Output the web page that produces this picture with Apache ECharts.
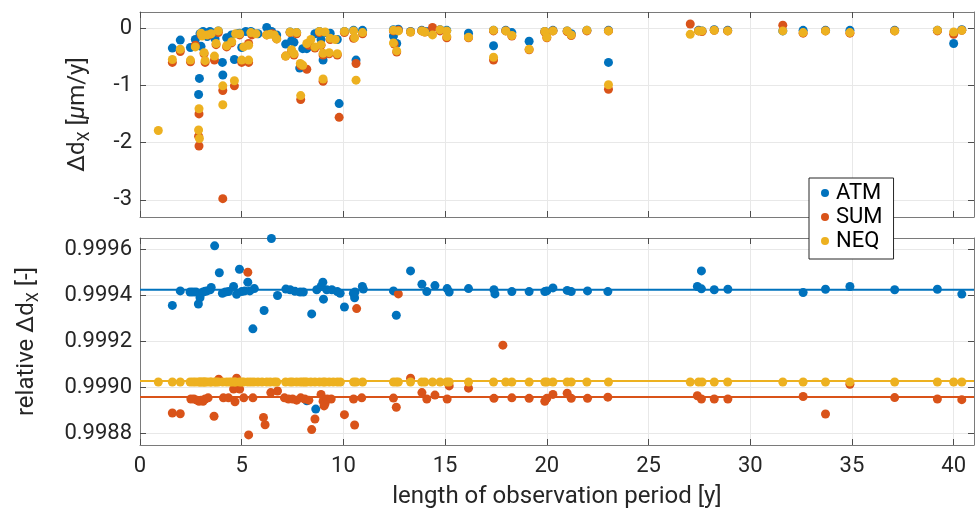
<!DOCTYPE html>
<html>
<head>
<meta charset="utf-8">
<script src="https://cdn.jsdelivr.net/npm/echarts@6/dist/echarts.min.js"></script>
<style>
html,body{margin:0;padding:0;background:#fff;}
#c{width:977px;height:511px;}
</style>
</head>
<body>
<div id="c"></div>
<script>
// ---------- data ----------
const seriesNames = ['ATM', 'SUM', 'NEQ'];
const xTicks = [0, 5, 10, 15, 20, 25, 30, 35, 40];
const topYTicks = [-3, -2, -1, 0];
const botYTicks = [0.9988, 0.9990, 0.9992, 0.9994, 0.9996];

// top panel: absolute differences [period, value]
const topATM = [[1.59,-0.35],[1.98,-0.21],[2.48,-0.34],[2.72,-0.20],[2.92,-0.88],[2.88,-1.16],[2.95,-0.10],[3.0,-0.32],[3.1,-0.06],[3.3,-0.15],[3.44,-0.06],[3.5,-0.10],[3.69,-0.19],[3.85,-0.05],[4.05,-0.60],[4.07,-0.82],[4.26,-0.17],[4.33,-0.18],[4.5,-0.12],[4.64,-0.55],[4.8,-0.10],[4.9,-0.09],[5.0,-0.34],[5.2,-0.06],[5.45,-0.06],[5.55,-0.09],[5.8,-0.10],[6.23,0.01],[6.47,-0.06],[6.72,-0.12],[7.16,-0.28],[7.38,-0.07],[7.45,-0.22],[7.57,-0.25],[7.7,-0.08],[7.85,-0.70],[8.0,-0.36],[8.2,-0.36],[8.6,-0.10],[8.82,-0.06],[8.9,-0.20],[9.0,-0.56],[9.1,-0.08],[9.35,-0.09],[9.7,-0.20],[9.79,-1.32],[10.05,-0.06],[10.5,-0.04],[10.62,-0.56],[10.94,-0.04],[12.46,-0.03],[12.46,-0.14],[12.62,-0.27],[12.7,-0.02],[13.3,-0.06],[13.85,-0.04],[14.0,-0.06],[14.2,-0.06],[14.75,-0.03],[15.08,-0.04],[16.15,-0.09],[17.38,-0.04],[17.38,-0.31],[17.98,-0.04],[18.28,-0.08],[19.13,-0.23],[19.9,-0.06],[20.3,-0.04],[21.0,-0.05],[21.2,-0.10],[21.97,-0.04],[23.03,-0.04],[23.03,-0.60],[27.46,-0.04],[27.63,-0.05],[28.23,-0.03],[28.89,-0.04],[31.6,-0.05],[32.6,-0.04],[33.7,-0.04],[34.9,-0.04],[37.1,-0.04],[39.2,-0.04],[40.0,-0.27],[40.4,-0.03]];
const topSUM = [[1.59,-0.60],[1.98,-0.41],[2.48,-0.59],[2.72,-0.30],[2.90,-1.50],[2.88,-1.89],[2.90,-2.06],[3.0,-0.12],[3.15,-0.45],[3.2,-0.60],[3.4,-0.12],[3.66,-0.56],[3.74,-0.29],[3.85,-0.08],[4.07,-1.09],[4.07,-2.98],[4.26,-0.33],[4.5,-0.26],[4.64,-1.01],[4.9,-0.12],[5.0,-0.60],[5.34,-0.27],[5.34,-0.60],[5.5,-0.12],[6.23,-0.12],[6.5,-0.10],[6.72,-0.19],[7.16,-0.49],[7.38,-0.08],[7.45,-0.40],[7.57,-0.47],[7.7,-0.10],[7.9,-1.25],[7.9,-0.66],[8.2,-0.72],[8.3,-0.30],[8.6,-0.35],[8.82,-0.08],[8.9,-0.30],[9.0,-0.93],[9.0,-0.47],[9.3,-0.45],[9.35,-0.20],[9.7,-0.47],[9.79,-1.56],[10.05,-0.08],[10.5,-0.18],[10.62,-0.62],[10.94,-0.10],[12.46,-0.05],[12.5,-0.28],[12.62,-0.42],[12.7,-0.04],[13.3,-0.07],[13.85,-0.05],[14.0,-0.07],[14.38,0.01],[14.75,-0.05],[15.08,-0.17],[16.15,-0.17],[17.38,-0.05],[17.38,-0.56],[17.98,-0.05],[18.28,-0.14],[19.13,-0.38],[19.9,-0.07],[20.0,-0.17],[20.3,-0.05],[21.0,-0.06],[21.2,-0.13],[21.97,-0.05],[23.03,-0.05],[23.03,-1.07],[27.05,0.07],[27.46,-0.05],[27.63,-0.06],[28.23,-0.04],[28.89,-0.05],[31.6,0.05],[32.6,-0.09],[33.7,-0.05],[34.9,-0.09],[37.1,-0.05],[39.2,-0.05],[40.0,-0.11],[40.4,-0.04]];
const topNEQ = [[0.90,-1.79],[1.59,-0.55],[1.98,-0.37],[2.48,-0.56],[2.72,-0.33],[2.90,-1.41],[2.88,-1.78],[2.92,-1.93],[3.0,-0.09],[3.05,-0.14],[3.15,-0.43],[3.2,-0.57],[3.3,-0.12],[3.5,-0.10],[3.66,-0.49],[3.74,-0.27],[3.85,-0.05],[4.07,-1.01],[4.07,-1.34],[4.26,-0.31],[4.51,-0.24],[4.64,-0.92],[4.7,-0.10],[4.9,-0.10],[5.0,-0.56],[5.1,-0.33],[5.34,-0.56],[5.34,-0.30],[5.45,-0.08],[5.7,-0.10],[6.23,-0.12],[6.4,-0.11],[6.6,-0.12],[6.72,-0.19],[7.16,-0.49],[7.38,-0.07],[7.45,-0.38],[7.57,-0.45],[7.7,-0.08],[7.88,-0.62],[7.9,-1.18],[8.0,-0.65],[8.2,-0.27],[8.4,-0.20],[8.6,-0.33],[8.82,-0.06],[8.9,-0.29],[9.0,-0.44],[9.0,-0.89],[9.1,-0.07],[9.3,-0.43],[9.35,-0.18],[9.6,-0.20],[9.7,-0.45],[10.05,-0.06],[10.5,-0.05],[10.55,-0.17],[10.62,-0.91],[10.94,-0.08],[12.46,-0.04],[12.46,-0.26],[12.62,-0.40],[12.7,-0.05],[13.3,-0.07],[13.85,-0.05],[14.0,-0.07],[14.38,-0.12],[14.75,-0.03],[15.08,-0.05],[15.08,-0.15],[16.15,-0.16],[17.38,-0.04],[17.38,-0.51],[17.98,-0.05],[18.28,-0.13],[19.13,-0.37],[19.9,-0.06],[20.0,-0.16],[20.3,-0.05],[21.0,-0.05],[21.2,-0.12],[21.97,-0.04],[23.03,-0.05],[23.03,-0.99],[27.05,-0.11],[27.46,-0.05],[27.63,-0.05],[28.23,-0.04],[28.89,-0.05],[31.6,-0.05],[32.6,-0.08],[33.7,-0.05],[34.9,-0.08],[37.1,-0.05],[39.2,-0.04],[40.0,-0.07],[40.4,-0.04]];

// bottom panel: relative differences [period, value]
const botATM = [[1.59,0.999357],[1.98,0.99942],[2.46,0.999415],[2.6,0.999415],[2.75,0.999415],[2.87,0.999363],[2.95,0.99939],[3.0,0.99941],[3.1,0.999415],[3.2,0.999418],[3.3,0.99942],[3.45,0.999425],[3.5,0.999435],[3.67,0.999616],[3.9,0.999499],[4.05,0.99941],[4.2,0.999415],[4.35,0.999417],[4.6,0.999439],[4.75,0.999405],[4.89,0.999514],[5.0,0.999417],[5.15,0.99942],[5.3,0.999458],[5.4,0.99942],[5.55,0.999255],[5.62,0.99943],[6.1,0.999335],[6.46,0.999648],[6.76,0.9994],[7.17,0.999428],[7.38,0.999425],[7.62,0.999418],[7.87,0.999415],[8.03,0.999415],[8.2,0.998942],[8.44,0.99932],[8.64,0.998906],[8.69,0.999425],[8.9,0.999439],[8.99,0.999458],[9.02,0.999384],[9.18,0.999425],[9.43,0.999425],[9.7,0.999417],[9.84,0.99941],[10.05,0.99935],[10.49,0.99941],[10.55,0.99939],[10.57,0.999415],[10.93,0.999439],[10.98,0.999428],[12.46,0.99942],[12.6,0.999314],[13.3,0.999507],[13.86,0.999449],[14.1,0.999417],[14.5,0.999443],[15.1,0.99943],[15.2,0.999415],[16.15,0.99943],[17.4,0.999425],[17.45,0.999407],[18.28,0.999417],[19.13,0.999417],[19.9,0.999417],[20.0,0.99942],[20.3,0.999433],[21.0,0.999422],[21.2,0.999417],[22.0,0.99942],[23.0,0.999417],[27.4,0.999439],[27.6,0.999507],[27.6,0.999429],[28.23,0.999425],[28.9,0.999427],[32.6,0.999413],[33.7,0.999427],[34.9,0.999439],[37.1,0.999425],[39.2,0.999427],[40.4,0.999406]];
const botSUM = [[1.59,0.998889],[1.98,0.998886],[2.5,0.99895],[2.65,0.99895],[2.8,0.998945],[2.9,0.99894],[3.0,0.998945],[3.1,0.99894],[3.2,0.99895],[3.35,0.998955],[3.64,0.998875],[3.87,0.999036],[4.1,0.998955],[4.35,0.998955],[4.6,0.998993],[4.67,0.998938],[4.75,0.99904],[4.9,0.998993],[5.1,0.998955],[5.3,0.999501],[5.34,0.998794],[5.55,0.998955],[6.07,0.99887],[6.15,0.998838],[6.43,0.998978],[6.76,0.998985],[7.1,0.998955],[7.3,0.99895],[7.5,0.99895],[7.7,0.998945],[7.9,0.998955],[8.1,0.99895],[8.3,0.998945],[8.44,0.998817],[8.6,0.998863],[8.9,0.99897],[9.0,0.99894],[9.05,0.99892],[9.1,0.99893],[9.2,0.99895],[9.4,0.99895],[10.05,0.998882],[10.5,0.99895],[10.55,0.998837],[10.65,0.999343],[10.9,0.998955],[12.46,0.998954],[12.6,0.998914],[12.7,0.999407],[13.3,0.99904],[13.86,0.998978],[14.1,0.99895],[14.5,0.998967],[15.1,0.99895],[15.2,0.999007],[16.15,0.998997],[17.4,0.998953],[17.84,0.999184],[18.28,0.998955],[19.13,0.998953],[19.9,0.99894],[20.0,0.998953],[20.3,0.99897],[21.0,0.998975],[21.2,0.998953],[22.0,0.998953],[23.0,0.998958],[27.4,0.998964],[27.6,0.99895],[28.23,0.99895],[28.9,0.99895],[32.6,0.998961],[33.7,0.998885],[34.9,0.999014],[37.1,0.998956],[39.2,0.99895],[40.4,0.998947]];
const botNEQperiods = [0.9,1.59,1.98,2.46,2.6,2.72,2.87,2.95,3.0,3.1,3.15,3.2,3.3,3.45,3.5,3.66,3.74,3.85,4.07,4.26,4.4,4.51,4.64,4.7,4.9,5.0,5.1,5.3,5.45,5.6,5.8,6.0,6.23,6.4,6.6,6.72,7.16,7.38,7.5,7.7,7.88,8.0,8.1,8.2,8.4,8.6,8.82,9.0,9.1,9.3,9.5,9.7,9.85,10.5,10.62,10.94,12.46,12.6,12.7,13.3,13.85,14.0,14.38,14.75,15.08,15.2,16.15,17.38,17.98,18.28,19.13,19.9,20.0,20.3,21.0,21.2,21.97,23.03,27.05,27.46,27.63,28.23,28.89,31.6,32.6,33.7,34.9,37.1,39.2,40.0,40.4];
const botNEQvalue = 0.999024;
const meanATM = 0.999425;
const meanSUM = 0.998959;
const meanNEQ = 0.999028;

// ---------- styling ----------
const C = {ATM: '#0072BD', SUM: '#D95319', NEQ: '#EDB120'};
const FONT = 'Roboto';
const X_MIN = 0, X_MAX = 41;
const TOP_MIN = -3.3, TOP_MAX = 0.28;
const BOT_MIN = 0.99875, BOT_MAX = 0.99965;
const boxColor = '#7a7a7a';
const gridColor = '#e8e8e8';
const tickColor = '#4d4d4d';

const chart = echarts.init(document.getElementById('c'), null, {renderer: 'canvas'});

function xAx(gridIndex, position, withLabels, withSplit) {
  return {
    type: 'value', gridIndex, position, min: X_MIN, max: X_MAX,
    axisLine: {show: true, onZero: false, lineStyle: {color: boxColor, width: 1}},
    axisTick: {show: true, inside: true, length: 6, customValues: xTicks, lineStyle: {color: tickColor}},
    axisLabel: {show: withLabels, customValues: xTicks, margin: 10, fontFamily: FONT, fontSize: 22, color: '#262626'},
    splitLine: {show: withSplit, lineStyle: {color: gridColor, width: 1}},
    name: withLabels ? 'length of observation period [y]' : '',
    nameLocation: 'middle', nameGap: 40,
    nameTextStyle: {fontFamily: FONT, fontSize: 24, color: '#262626'}
  };
}
function yAx(gridIndex, position, min, max, ticks, withLabels, withSplit, fmt, name, nameGap) {
  return {
    type: 'value', gridIndex, position, min, max,
    axisLine: {show: true, onZero: false, lineStyle: {color: boxColor, width: 1}},
    axisTick: {show: true, inside: true, length: 6, customValues: ticks, lineStyle: {color: tickColor}},
    axisLabel: {show: withLabels, customValues: ticks, margin: 8, fontFamily: FONT, fontSize: 22, color: '#262626', formatter: fmt},
    splitLine: {show: withSplit, lineStyle: {color: gridColor, width: 1}},
    name: name || '', nameLocation: 'middle', nameGap: nameGap || 0, nameRotate: 90,
    nameTextStyle: {
      fontFamily: FONT, fontSize: 24, color: '#262626',
      rich: {
        n: {fontFamily: FONT, fontSize: 24, color: '#262626', lineHeight: 34, verticalAlign: 'middle'},
        s: {fontFamily: FONT, fontSize: 16, color: '#262626', lineHeight: 34, verticalAlign: 'bottom', padding: [0, 0, 2, 0]},
        i: {fontFamily: FONT, fontSize: 24, fontStyle: 'italic', color: '#262626', lineHeight: 34, verticalAlign: 'middle'}
      }
    }
  };
}

const series = [];
const topData = {ATM: topATM, SUM: topSUM, NEQ: topNEQ};
seriesNames.forEach(n => {
  series.push({name: n, type: 'scatter', xAxisIndex: 0, yAxisIndex: 0, data: topData[n],
    symbolSize: 9, itemStyle: {color: C[n], opacity: 1}, emphasis: {disabled: true}, z: 3});
});
const meanData = {ATM: meanATM, SUM: meanSUM, NEQ: meanNEQ};
const botData = {ATM: botATM, SUM: botSUM, NEQ: botNEQperiods.map(p => [p, botNEQvalue])};
seriesNames.forEach(n => {
  series.push({name: n, type: 'scatter', xAxisIndex: 2, yAxisIndex: 2, data: botData[n],
    symbolSize: 9, itemStyle: {color: C[n], opacity: 1}, emphasis: {disabled: true}, z: 3});
});
seriesNames.forEach(n => {
  series.push({name: n + ' mean', type: 'line', xAxisIndex: 2, yAxisIndex: 2,
    data: [[X_MIN, meanData[n]], [X_MAX, meanData[n]]], showSymbol: false, symbol: 'none',
    lineStyle: {color: C[n], width: 2}, emphasis: {disabled: true}, z: 4, silent: true});
});

chart.setOption({
  animation: false,
  backgroundColor: '#fff',
  textStyle: {fontFamily: FONT},
  grid: [
    {left: 140, right: 3, top: 12, height: 205},
    {left: 140, right: 3, top: 238, height: 207}
  ],
  xAxis: [
    xAx(0, 'bottom', false, true),
    xAx(0, 'top', false, false),
    xAx(1, 'bottom', true, true),
    xAx(1, 'top', false, false)
  ],
  yAxis: [
    yAx(0, 'left', TOP_MIN, TOP_MAX, topYTicks, true, true, v => String(v),
        '{n|Δd}{s|X}{n| [}{i|μ}{n|m/y]}', 45),
    yAx(0, 'right', TOP_MIN, TOP_MAX, topYTicks, false, false),
    yAx(1, 'left', BOT_MIN, BOT_MAX, botYTicks, true, true, v => v.toFixed(4),
        '{n|relative Δd}{s|X}{n| [-]}', 96),
    yAx(1, 'right', BOT_MIN, BOT_MAX, botYTicks, false, false)
  ],
  legend: {
    data: seriesNames,
    orient: 'vertical',
    left: 809, top: 178,
    icon: 'circle', itemWidth: 8, itemHeight: 8, itemGap: 2,
    padding: [4, 11, 7, 12],
    backgroundColor: '#fff',
    borderColor: '#262626', borderWidth: 1,
    textStyle: {fontFamily: FONT, fontSize: 22, color: '#000', padding: [0, 0, 0, 2]},
    selectedMode: false
  },
  series
});
</script>
</body>
</html>
